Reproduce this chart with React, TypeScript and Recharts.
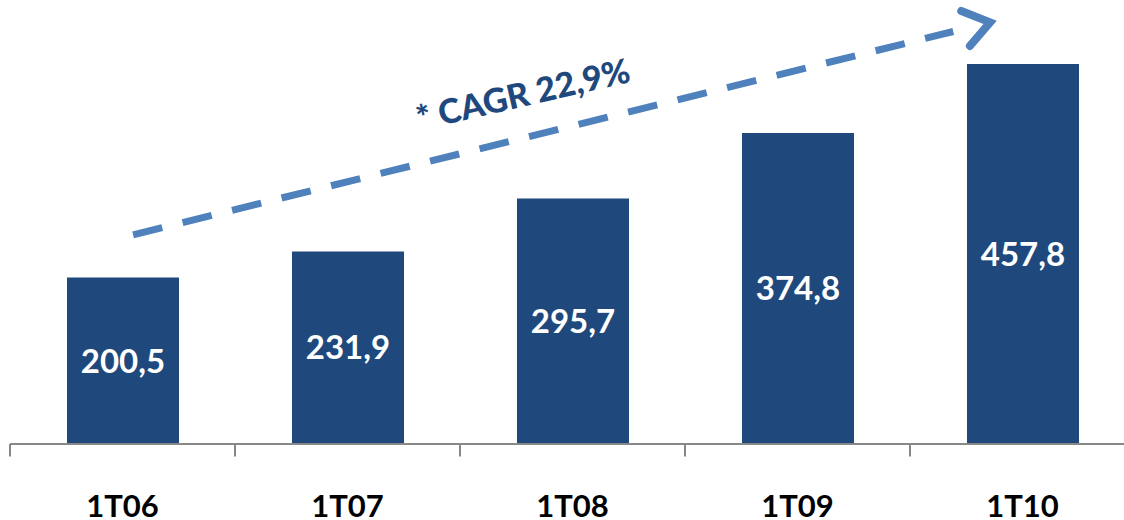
import React from 'react';
import { BarChart, Bar, XAxis, YAxis, LabelList, ReferenceLine } from 'recharts';

const categories = ['1T06', '1T07', '1T08', '1T09', '1T10'];
const values = [200.5, 231.9, 295.7, 374.8, 457.8];
const slotCenters = [0.5, 1.5, 2.5, 3.5, 4.5];
const cagrLabel = '* CAGR 22,9%';
// annotation arrow endpoints in (category-slot units, value units)
const arrowStart = { x: 0.547, y: 252 };
const arrowEnd = { x: 4.356, y: 508 };
const boundaries = [0, 1, 2, 3, 4, 5];

const data = categories.map((c, i) => ({ name: c, value: values[i], pos: slotCenters[i] }));

const BAR = '#1F497D';
const ARROW = '#4F81BD';
const FONT = 'Lato, "Open Sans", sans-serif';

const fmt = (v: any) => Number(v).toFixed(1).replace('.', ',');

const ArrowShape = (props: any) => {
  const { x1, y1, x2, y2 } = props;
  if (x1 == null) return null;
  const dx = x2 - x1;
  const dy = y2 - y1;
  const len = Math.sqrt(dx * dx + dy * dy);
  const ux = dx / len;
  const uy = dy / len;
  const px = uy; // perpendicular (pointing up-left for up-right line)
  const py = -ux;
  const head = 31;
  const spread = 0.62;
  const back1x = x2 - head * (ux * Math.cos(spread) - uy * Math.sin(spread));
  const back1y = y2 - head * (uy * Math.cos(spread) + ux * Math.sin(spread));
  const back2x = x2 - head * (ux * Math.cos(-spread) - uy * Math.sin(-spread));
  const back2y = y2 - head * (uy * Math.cos(-spread) + ux * Math.sin(-spread));
  const t = 0.467;
  const tx = x1 + dx * t + px * 44;
  const ty = y1 + dy * t + py * 44;
  const ang = (Math.atan2(dy, dx) * 180) / Math.PI + 1;
  return (
    <g>
      <line x1={x1} y1={y1} x2={x2 - ux * 38} y2={y2 - uy * 38} stroke={ARROW} strokeWidth={7} strokeDasharray="30 21" />
      <polyline
        points={`${back1x},${back1y} ${x2},${y2} ${back2x},${back2y}`}
        fill="none"
        stroke={ARROW}
        strokeWidth={8}
        strokeLinecap="round"
        strokeLinejoin="miter"
      />
      <text
        x={tx}
        y={ty}
        transform={`rotate(${ang} ${tx} ${ty})`}
        textAnchor="middle"
        dominantBaseline="central"
        fill={BAR}
        fontFamily={FONT}
        fontWeight={900}
        fontSize={34}
      >
        {cagrLabel}
      </text>
    </g>
  );
};

const CatTick = (props: any) => {
  const { x, y, payload } = props;
  return (
    <text x={x} y={y + 67} textAnchor="middle" fill="#000" fontFamily={FONT} fontWeight={700} fontSize={31}>
      {payload.value}
    </text>
  );
};

export default function App() {
  return (
    <div style={{ position: 'absolute', left: 0, top: 0, width: 1124, height: 520, overflow: 'hidden', background: '#fff' }}>
      <BarChart width={1140} height={520} data={data} margin={{ top: 29, right: 5, left: 10, bottom: 0 }}>
        <XAxis
          dataKey="name"
          height={76}
          tickLine={false}
          axisLine={{ stroke: '#888888', strokeWidth: 2 }}
          tickMargin={0}
          tick={<CatTick />}
          interval={0}
        />
        <XAxis xAxisId="ann" dataKey="pos" type="number" domain={[0, 5]} ticks={boundaries} hide />
        <YAxis domain={[0, 500]} hide allowDataOverflow />
        {boundaries.map((b) => (
          <ReferenceLine
            key={b}
            xAxisId="ann"
            segment={[{ x: b, y: 0 }, { x: b, y: -15 }]}
            stroke="#888888"
            strokeWidth={2}
            ifOverflow="visible"
          />
        ))}
        <Bar dataKey="value" fill={BAR} barSize={112} isAnimationActive={false}>
          <LabelList
            dataKey="value"
            position="center"
            formatter={fmt}
            fill="#ffffff"
            fontSize={33}
            fontWeight={700}
            fontFamily={FONT}
          />
        </Bar>
        <ReferenceLine
          xAxisId="ann"
          segment={[arrowStart, arrowEnd]}
          ifOverflow="visible"
          shape={ArrowShape}
        />
      </BarChart>
    </div>
  );
}
